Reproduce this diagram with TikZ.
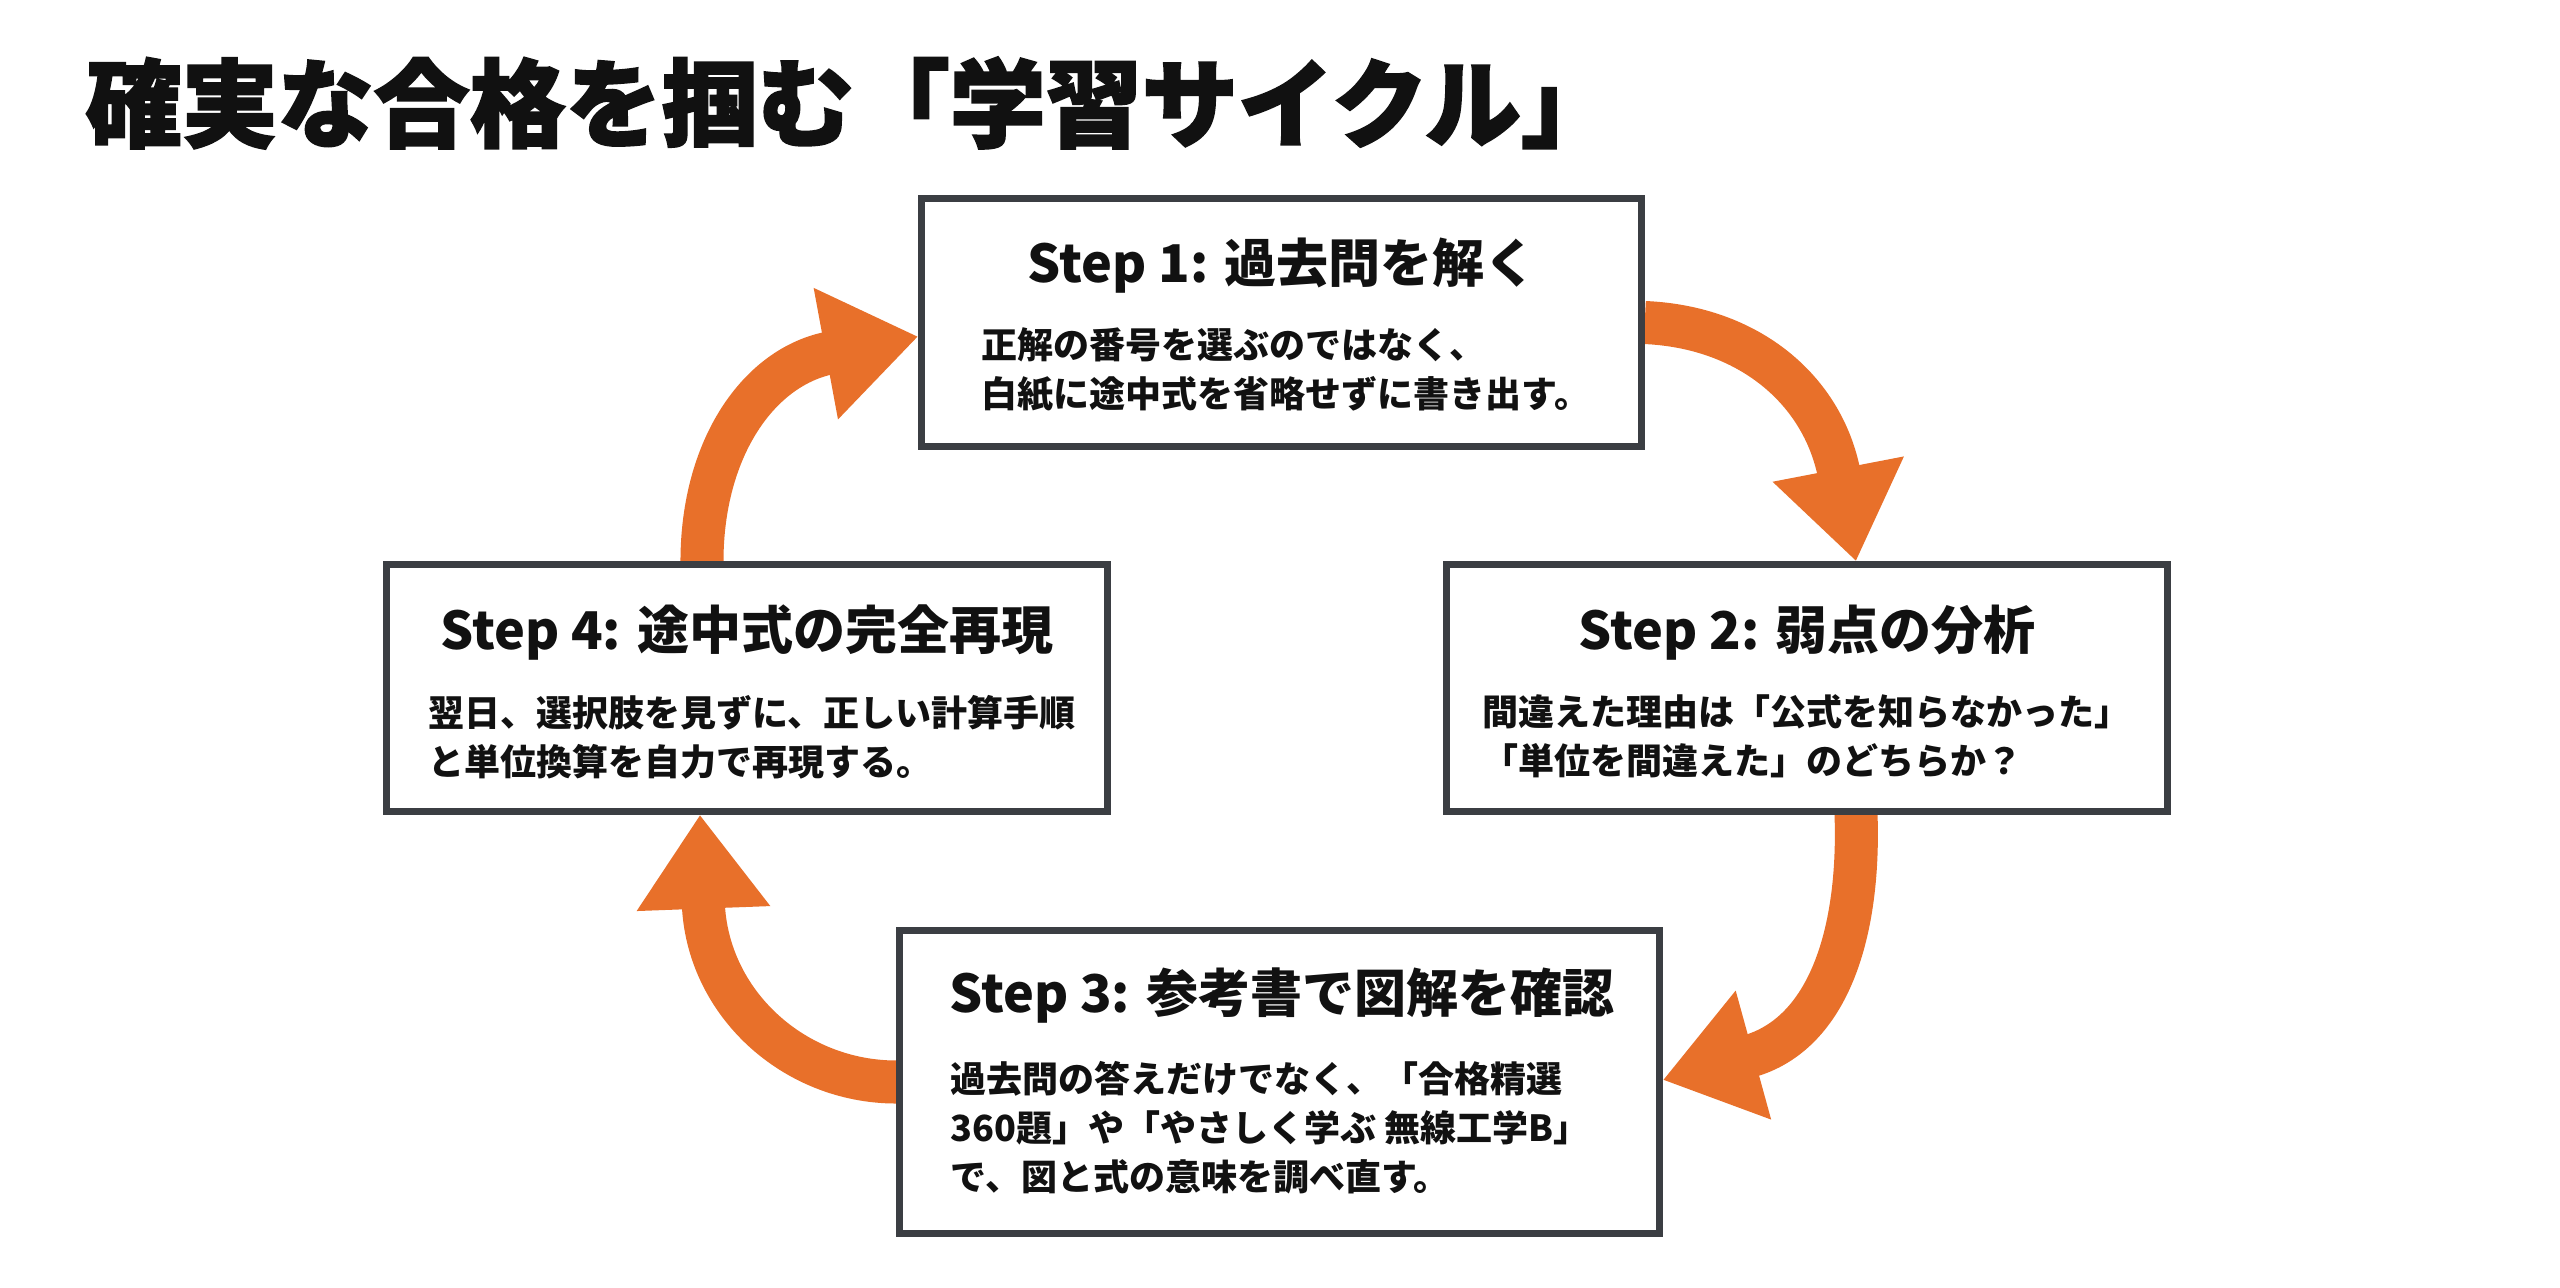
\documentclass[tikz,border=0pt]{standalone}
\usepackage{fontspec}
\setmainfont{Noto Sans CJK JP}
\newfontfamily\heavyfont{Noto Sans CJK JP}[BoldFeatures={FakeBold=2}]
\usetikzlibrary{arrows.meta}
\definecolor{cycorange}{HTML}{E8702A}
\definecolor{boxgray}{HTML}{3B3E43}
\definecolor{ink}{HTML}{111111}
\pgfdeclarelayer{paper}
\pgfdeclarelayer{bg}
\pgfsetlayers{paper,bg,main}
\begin{document}
\begin{tikzpicture}[x=0.01cm,y=-0.01cm,
  stepbox/.style={draw=boxgray, line width=0.07cm, fill=white, inner sep=0},
  steptitle/.style={font={\bfseries\fontsize{14.8pt}{18pt}\selectfont}, text=ink, inner sep=0},
  stepbody/.style={font={\bfseries\fontsize{10.24pt}{13.9pt}\selectfont}, text=ink, inner sep=0, align=left, anchor=west},
  cyc/.style={draw=cycorange, line width=0.43cm, -{Triangle[length=0.94cm,width=1.27cm]}}]
\begin{pgfonlayer}{paper}
\fill[white] (0,0) rectangle (2560,1287);
\end{pgfonlayer}
\useasboundingbox (0,0) rectangle (2560,1287);

\node[anchor=west, inner sep=0, text=ink, font={\heavyfont\bfseries\fontsize{27.3pt}{30pt}\selectfont}] (title) at (85,103) {確実な合格を掴む「学習サイクル」};

% boxes
\node[stepbox, minimum width=7.19cm, minimum height=2.47cm] (b1) at (1281.5,322.5) {};
\node[stepbox, minimum width=7.20cm, minimum height=2.46cm] (b2) at (1807,688) {};
\node[stepbox, minimum width=7.59cm, minimum height=3.02cm] (b3) at (1279.5,1082) {};
\node[stepbox, minimum width=7.20cm, minimum height=2.46cm] (b4) at (747,688) {};

% texts
\node[steptitle] (t1) at (1282,266) {Step 1: 過去問を解く};
\node[stepbody] (d1) at (981,370) {正解の番号を選ぶのではなく、\\白紙に途中式を省略せずに書き出す。};

\node[steptitle] (t2) at (1807,633) {Step 2: 弱点の分析};
\node[stepbody] (d2) at (1482,736) {間違えた理由は「公式を知らなかった」\\「単位を間違えた」のどちらか？};

\node[steptitle] (t3) at (1282,996) {Step 3: 参考書で図解を確認};
\node[stepbody] (d3) at (950,1128) {過去問の答えだけでなく、「合格精選\\360題」や「やさしく学ぶ 無線工学B」\\で、図と式の意味を調べ直す。};

\node[steptitle] (t4) at (747,632) {Step 4: 途中式の完全再現};
\node[stepbody] (d4) at (428,737) {翌日、選択肢を見ずに、正しい計算手順\\と単位換算を自力で再現する。};

% cycle arrows
\begin{pgfonlayer}{bg}
\draw[cyc] (b1.east) .. controls (1749,327) and (1823,390) .. ([xshift=0.49cm]b2.north);
\draw[cyc] ([xshift=0.49cm]b2.south) .. controls (1860,930) and (1830,1034) .. ([yshift=0.02cm]b3.east);
\draw[cyc] (b3.west) .. controls (794,1082) and (707,1003) .. ([xshift=-0.47cm]b4.south);
\draw[cyc] ([xshift=-0.45cm]b4.north) .. controls (702,448) and (759,366) .. ([yshift=-0.14cm]b1.west);
\end{pgfonlayer}
\end{tikzpicture}
\end{document}
